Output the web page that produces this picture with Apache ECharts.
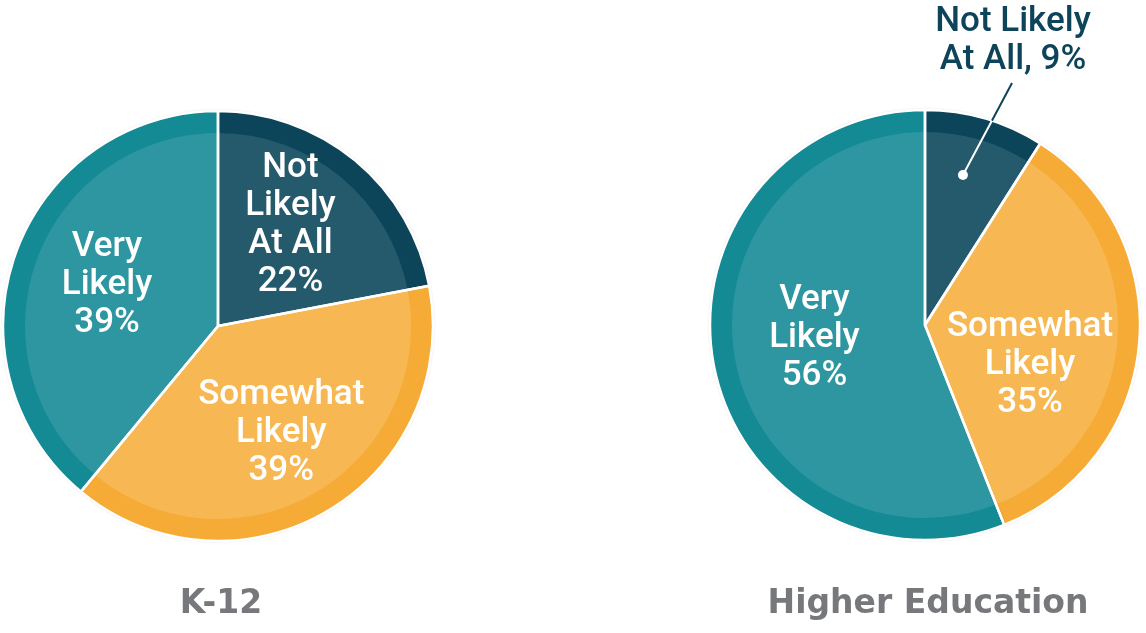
<!DOCTYPE html>
<html><head><meta charset="utf-8">
<script src="https://cdn.jsdelivr.net/npm/echarts@6/dist/echarts.min.js"></script>
<style>html,body{margin:0;padding:0;background:#fff}#c{width:1146px;height:633px}</style>
</head><body><div id="c"></div>
<script>
// ---- data ----
const categories = ['Not Likely At All', 'Somewhat Likely', 'Very Likely'];
const k12Values = [22, 39, 39];
const higherEdValues = [9, 35, 56];
const chartTitles = ['K-12', 'Higher Education'];
const insideLabelText = ['Not\nLikely\nAt All', 'Somewhat\nLikely', 'Very\nLikely'];
const calloutLabelText = 'Not Likely\nAt All';

// ---- styles / layout ----
const ringColors = ['#0c4459', '#f6ab37', '#138a94'];
const fillColors = ['#255a6d', '#f7b853', '#2d96a1'];
const R = 215, RIN = 193;
const centers = [[218, 326], [925, 325]];
// fine label nudges [chart][slice] = [dx, dy]
const nudges = [
  [[2, -16], [7, 12], [-7, -3]],
  [[0, 0], [-5, 30], [-2, -7]]
];
const calloutPos = [1013, 41];
const labelFont = {fontFamily: 'Roboto', fontWeight: 500, fontSize: 35, lineHeight: 38};

const chart = echarts.init(document.getElementById('c'), null, {renderer: 'canvas'});

function mkData(values, colors) {
  return categories.map((n, i) => ({name: n, value: values[i], itemStyle: {color: colors[i]}}));
}

function seriesFor(ci, values) {
  const c = centers[ci];
  const base = {type: 'pie', center: c, startAngle: 90, clockwise: true, silent: true,
    animation: false, emphasis: {disabled: true}, labelLine: {show: false}};
  const ring = Object.assign({}, base, {radius: [0, R], label: {show: false},
    data: mkData(values, ringColors),
    itemStyle: {shadowBlur: 3, shadowColor: 'rgba(0,0,0,0.25)'}});
  const fill = Object.assign({}, base, {radius: [0, RIN], label: {show: false},
    data: mkData(values, fillColors)});
  const overlayData = categories.map((n, i) => {
    const d = {name: n, value: values[i], itemStyle: {color: 'rgba(0,0,0,0)'}};
    if (ci === 1 && i === 0) {
      d.label = {color: '#0e4459', overflow: 'none',
        formatter: p => calloutLabelText + ', ' + p.value + '%'};
    }
    return d;
  });
  const overlay = Object.assign({}, base, {radius: [0, R],
    itemStyle: {borderColor: '#ffffff', borderWidth: 2.5},
    label: Object.assign({show: true, position: 'inside', color: '#ffffff', align: 'center', overflow: 'none',
      formatter: p => insideLabelText[p.dataIndex] + '\n' + p.value + '%'}, labelFont),
    labelLayout: function (p) {
      if (ci === 1 && p.dataIndex === 0) {
        return {x: calloutPos[0], y: calloutPos[1], align: 'center', verticalAlign: 'middle'};
      }
      const n = nudges[ci][p.dataIndex];
      return {dx: n[0], dy: n[1]};
    },
    data: overlayData});
  return [ring, fill, overlay];
}

// callout leader line computed from the slice geometry
const heC = centers[1];
const heTotal = higherEdValues.reduce((a, b) => a + b, 0);
const midFrac = (higherEdValues[0] / 2) / heTotal;
const midAng = midFrac * 2 * Math.PI - 0.035;
const dot = [heC[0] + 0.72 * R * Math.sin(midAng), heC[1] - 0.72 * R * Math.cos(midAng)];
const lineEnd = [calloutPos[0] - 1, calloutPos[1] + 42];
// intersection with outer circle
const dx = lineEnd[0] - dot[0], dy = lineEnd[1] - dot[1];
const px = dot[0] - heC[0], py = dot[1] - heC[1];
const a = dx * dx + dy * dy, b = 2 * (px * dx + py * dy), cc = px * px + py * py - R * R;
const t = (-b + Math.sqrt(b * b - 4 * a * cc)) / (2 * a);
const edge = [dot[0] + t * dx, dot[1] + t * dy];

const titleStyle = {fontFamily: 'DejaVu Sans', fontWeight: 'bold', fontSize: 33, color: '#77787b'};

chart.setOption({
  backgroundColor: '#ffffff',
  animation: false,
  title: [
    {text: chartTitles[0], left: centers[0][0] - 2, top: 583, textAlign: 'center', textStyle: titleStyle},
    {text: chartTitles[1], left: centers[1][0] - 2, top: 583, textAlign: 'center', textStyle: titleStyle}
  ],
  series: [].concat(seriesFor(0, k12Values), seriesFor(1, higherEdValues)),
  graphic: [
    {type: 'line', z: 100, silent: true, shape: {x1: edge[0], y1: edge[1], x2: lineEnd[0], y2: lineEnd[1]},
      style: {stroke: '#0e4459', lineWidth: 2}},
    {type: 'line', z: 100, silent: true, shape: {x1: dot[0], y1: dot[1], x2: edge[0], y2: edge[1]},
      style: {stroke: '#ffffff', lineWidth: 2}},
    {type: 'circle', z: 101, silent: true, shape: {cx: dot[0], cy: dot[1], r: 5}, style: {fill: '#ffffff'}}
  ]
});
</script></body></html>
